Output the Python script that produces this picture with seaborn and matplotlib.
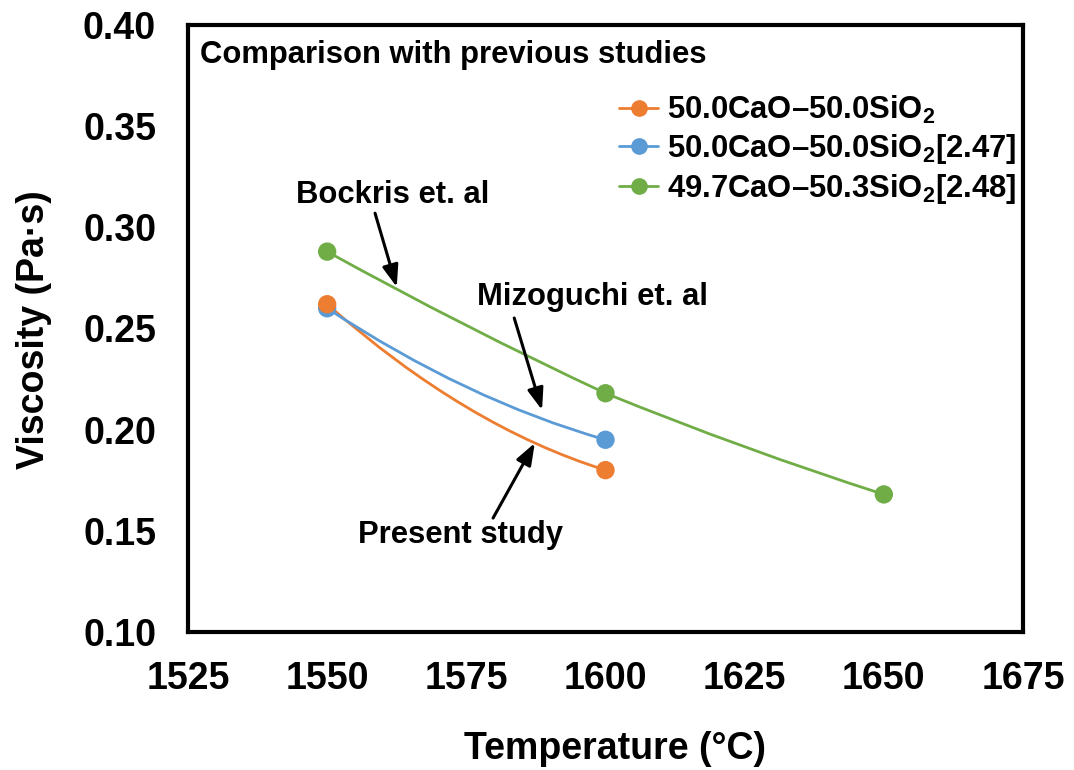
import matplotlib
matplotlib.use('Agg')
import matplotlib.pyplot as plt
import seaborn as sns
import pandas as pd
from matplotlib.path import Path
from matplotlib.patches import PathPatch
from matplotlib.lines import Line2D

# ---------------- data ----------------
series_names = ['50.0CaO–50.0SiO$_2$',
                '50.0CaO–50.0SiO$_2$[2.47]',
                '49.7CaO–50.3SiO$_2$[2.48]']
present_T = [1550, 1600]
present_eta = [0.262, 0.180]
mizo_T = [1550, 1600]
mizo_eta = [0.260, 0.195]
bock_T = [1550, 1600, 1650]
bock_eta = [0.288, 0.218, 0.168]
colors = ['#ED7D31', '#5B9BD5', '#70AD47']
x_ticks = [1525, 1550, 1575, 1600, 1625, 1650, 1675]
y_ticks = [0.10, 0.15, 0.20, 0.25, 0.30, 0.35, 0.40]
annotations = ['Bockris et. al', 'Mizoguchi et. al', 'Present study']

# smoothing style (curve bend of each rendered line, data units)
bend = [0.0098, 0.0064, 0.0015]

sns.set_style('white')
plt.rcParams['font.family'] = ['Liberation Sans', 'DejaVu Sans']
plt.rcParams['font.weight'] = 'bold'
plt.rcParams['text.color'] = 'black'
plt.rcParams['axes.labelcolor'] = 'black'
plt.rcParams['xtick.color'] = 'black'
plt.rcParams['ytick.color'] = 'black'
plt.rcParams['mathtext.fontset'] = 'custom'
plt.rcParams['mathtext.rm'] = 'Liberation Sans:bold'
plt.rcParams['mathtext.it'] = 'Liberation Sans:bold'
plt.rcParams['mathtext.bf'] = 'Liberation Sans:bold'
plt.rcParams['mathtext.default'] = 'rm'

fig = plt.figure(figsize=(10.74, 7.70), dpi=100)
ax = fig.add_axes([188/1074, 138/770, 835/1074, 607/770])

# dataframe, drawing order: blue, orange, green
df = pd.concat([
    pd.DataFrame({'T': mizo_T, 'eta': mizo_eta, 'series': series_names[1]}),
    pd.DataFrame({'T': present_T, 'eta': present_eta, 'series': series_names[0]}),
    pd.DataFrame({'T': bock_T, 'eta': bock_eta, 'series': series_names[2]}),
], ignore_index=True)
palette = dict(zip(series_names, colors))

# smooth lines
for (xs, ys), col, b in zip([(present_T, present_eta), (mizo_T, mizo_eta), (bock_T, bock_eta)], colors, bend):
    verts = [(xs[0], ys[0])]
    codes = [Path.MOVETO]
    for i in range(len(xs) - 1):
        cx = (xs[i] + xs[i + 1]) / 2
        cy = (ys[i] + ys[i + 1]) / 2 - 2 * b
        verts += [(cx, cy), (xs[i + 1], ys[i + 1])]
        codes += [Path.CURVE3, Path.CURVE3]
    ax.add_patch(PathPatch(Path(verts, codes), facecolor='none', edgecolor=col, lw=2.0, zorder=2))

sns.scatterplot(data=df, x='T', y='eta', hue='series', palette=palette, s=175,
                edgecolor='none', linewidth=0, legend=False, ax=ax, zorder=3)

ax.set_xlim(1525, 1675)
ax.set_ylim(0.10, 0.40)
ax.set_xticks(x_ticks)
ax.set_yticks(y_ticks)
ax.set_xticklabels([str(v) for v in x_ticks])
ax.set_yticklabels([f'{v:.2f}' for v in y_ticks])
ax.tick_params(axis='both', direction='in', length=8, width=2.2, labelsize=27,
               colors='black', top=False, right=False)
ax.tick_params(axis='y', pad=23)
ax.tick_params(axis='x', pad=21)
for lab in ax.get_xticklabels() + ax.get_yticklabels():
    lab.set_fontweight('bold')
for sp in ax.spines.values():
    sp.set_visible(True)
    sp.set_linewidth(3)
    sp.set_color('black')

ax.set_xlabel('Temperature (°C)', fontsize=27, fontweight='bold', color='black')
ax.set_ylabel('Viscosity (Pa·s)', fontsize=27, fontweight='bold', color='black')
ax.xaxis.set_label_coords(0.511, -0.163)
ax.yaxis.set_label_coords(-0.163, 0.4975)

ax.text(0.0144, 0.9506, 'Comparison with previous studies', transform=ax.transAxes,
        ha='left', va='center', fontsize=22.3, fontweight='bold', color='black')

handles = [Line2D([], [], color=c, marker='o', markersize=11, lw=2.0) for c in colors]
leg = ax.legend(handles, series_names, loc='upper right', bbox_to_anchor=(1.0, 0.897),
                frameon=False, prop={'size': 22.3, 'weight': 'bold'}, handlelength=1.25,
                handletextpad=0.3, labelspacing=0.2, borderaxespad=0.1, borderpad=0.1)
for t in leg.get_texts():
    t.set_color('black')

arrow = dict(arrowstyle='-|>,head_length=0.6,head_width=0.22', color='black', lw=2.2,
             mutation_scale=22, shrinkA=0, shrinkB=0)
ax.annotate('', xy=(1562.5, 0.2705), xytext=(1558.6, 0.307), arrowprops=arrow)
ax.annotate('', xy=(1588.6, 0.2097), xytext=(1583.6, 0.2552), arrowprops=arrow)
ax.annotate('', xy=(1587.3, 0.1934), xytext=(1579.8, 0.1563), arrowprops=arrow)
ax.text(1561.8, 0.316, annotations[0], ha='center', va='center', fontsize=22.3,
        fontweight='bold', color='black')
ax.text(1597.6, 0.2656, annotations[1], ha='center', va='center', fontsize=22.3,
        fontweight='bold', color='black')
ax.text(1573.9, 0.148, annotations[2], ha='center', va='center', fontsize=22.3,
        fontweight='bold', color='black')

fig.savefig('out.png', dpi=100)
